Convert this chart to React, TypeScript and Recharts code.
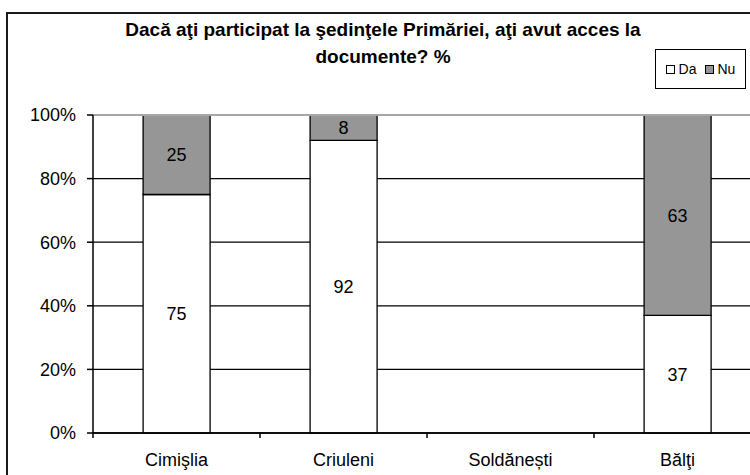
import React from 'react';
import {
    BarChart,
    Bar,
    XAxis,
    YAxis,
    CartesianGrid,
    ReferenceLine,
    LabelList
} from 'recharts';

const categories = ['Cimişlia', 'Criuleni', 'Soldănești', 'Bălţi'];
const daValues = [75, 92, null, 37];
const nuValues = [25, 8, null, 63];
const yTicks = [0, 20, 40, 60, 80, 100];

const data = categories.map((name, i) => ({ name, da: daValues[i], nu: nuValues[i] }));

const FONT = '"Liberation Sans", Arial, sans-serif';

function CategoryTick(props: any) {
    const { x, y, payload } = props;
    const half = payload.offset || 0;
    return (
        <g>
            <line x1={x - half} x2={x - half} y1={y - 19} y2={y - 14} stroke="#000" strokeWidth={1.5} />
            <text x={x} y={y} dy="0.78em" textAnchor="middle" fill="#000" fontSize={18} fontFamily={FONT}>
                {payload.value}
            </text>
        </g>
    );
}

function LegendBox() {
    const item = (label: string, color: string) => (
        <span style={{ display: 'inline-flex', alignItems: 'center', margin: '0 4px' }}>
            <span style={{ width: 7, height: 7, border: '1px solid #000', background: color, marginRight: 4 }} />
            {label}
        </span>
    );
    return (
        <div style={{
            position: 'absolute', left: 655, top: 49, width: 89, height: 38,
            border: '1px solid #000', display: 'flex', alignItems: 'center', justifyContent: 'center',
            fontFamily: FONT, fontSize: 14, background: '#fff'
        }}>
            {item('Da', '#fff')}
            {item('Nu', '#969696')}
        </div>
    );
}

export default function App() {
    return (
        <div style={{ position: 'fixed', left: 0, top: 0, width: 750, height: 475, overflow: 'hidden', background: '#fff' }}>
            <div style={{ position: 'absolute', left: 6, top: 12, width: 800, height: 500, border: '2px solid #1a1a1a' }} />
            <div style={{
                position: 'absolute', left: 6, width: 754, top: 16, textAlign: 'center',
                fontFamily: FONT, fontWeight: 'bold', fontSize: 19, lineHeight: '27px', color: '#000'
            }}>
                Dacă aţi participat la şedinţele Primăriei, aţi avut acces la<br />documente? %
            </div>
            <LegendBox />
            <div style={{ position: 'absolute', left: 0, top: 0 }}>
                <BarChart
                    width={770}
                    height={475}
                    data={data}
                    margin={{ top: 115, right: 9, bottom: 12, left: 33 }}
                    barCategoryGap="30%"
                >
                    <CartesianGrid vertical={false} stroke="#000" strokeWidth={1.3} />
                    <ReferenceLine y={100} stroke="#a6a6a6" strokeWidth={2} />
                    <XAxis
                        dataKey="name"
                        axisLine={{ stroke: '#000', strokeWidth: 1.5 }}
                        tickLine={false}
                        tickSize={5}
                        tickMargin={14}
                        height={30}
                        interval={0}
                        tick={<CategoryTick />}
                    />
                    <YAxis
                        width={60}
                        domain={[0, 100]}
                        ticks={yTicks}
                        tickFormatter={(v) => v + '%'}
                        axisLine={{ stroke: '#000', strokeWidth: 1.5 }}
                        tickLine={{ stroke: '#000', strokeWidth: 1.5 }}
                        tickSize={6}
                        tickMargin={11}
                        tick={{ fill: '#000', fontSize: 18, fontFamily: FONT }}
                    />
                    <Bar dataKey="da" stackId="a" fill="#fff" stroke="#000" strokeWidth={1.3} isAnimationActive={false}>
                        <LabelList dataKey="da" position="center" fill="#000" fontSize={18} fontFamily={FONT} formatter={(v: any) => (v == null ? '' : v)} />
                    </Bar>
                    <Bar dataKey="nu" stackId="a" fill="#969696" stroke="#000" strokeWidth={1.3} isAnimationActive={false}>
                        <LabelList dataKey="nu" position="center" fill="#000" fontSize={18} fontFamily={FONT} formatter={(v: any) => (v == null ? '' : v)} />
                    </Bar>
                </BarChart>
            </div>
        </div>
    );
}
